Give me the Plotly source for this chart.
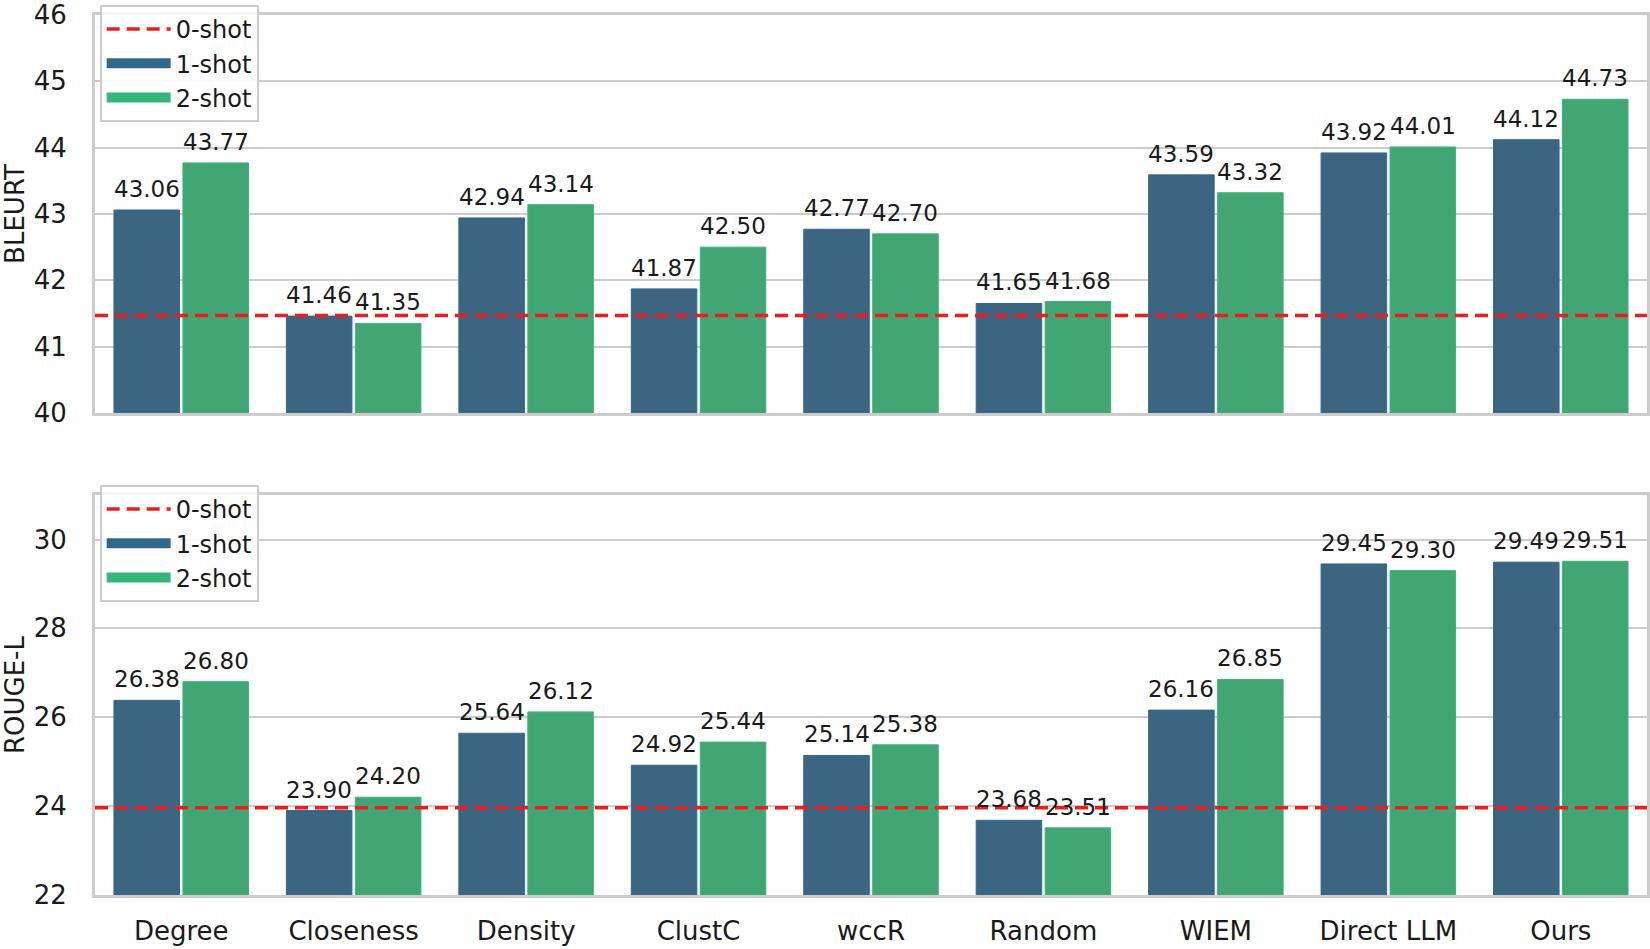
import plotly.graph_objects as go

categories = ["Degree", "Closeness", "Density", "ClustC", "wccR", "Random", "WIEM", "Direct LLM", "Ours"]

bleurt_1shot = [43.06, 41.46, 42.94, 41.87, 42.77, 41.65, 43.59, 43.92, 44.12]
bleurt_2shot = [43.77, 41.35, 43.14, 42.50, 42.70, 41.68, 43.32, 44.01, 44.73]
bleurt_0shot = 41.47

rouge_1shot = [26.38, 23.90, 25.64, 24.92, 25.14, 23.68, 26.16, 29.45, 29.49]
rouge_2shot = [26.80, 24.20, 26.12, 25.44, 25.38, 23.51, 26.85, 29.30, 29.51]
rouge_0shot = 23.96

bleurt_ticks = [40, 41, 42, 43, 44, 45, 46]
rouge_ticks = [22, 24, 26, 28, 30]

FONT = "DejaVu Sans"
C1_BAR, C2_BAR = "#3c6581", "#42a674"
C1_LEG, C2_LEG = "#31688e", "#35b779"
RED = "rgb(240,28,28)"
GRID = "#cccccc"
TXT = "#1a1a1a"

xs = list(range(len(categories)))
fig = go.Figure()

panels = [
    ("x", "y", "legend", bleurt_1shot, bleurt_2shot, bleurt_0shot),
    ("x2", "y2", "legend2", rouge_1shot, rouge_2shot, rouge_0shot),
]

annotations = []
for xa, ya, lg, v1, v2, v0 in panels:
    # zero-shot line
    fig.add_trace(go.Scatter(x=[-0.5, len(categories) - 0.5], y=[v0, v0], mode="lines",
                             line=dict(color=RED, width=3.5, dash="13px,7px"),
                             name="0-shot", xaxis=xa, yaxis=ya, legend=lg, showlegend=True))
    # legend-only patches (wide rectangles)
    fig.add_trace(go.Scatter(x=[None], y=[None], mode="lines", name="1-shot",
                             line=dict(color=C1_LEG, width=18),
                             xaxis=xa, yaxis=ya, legend=lg))
    fig.add_trace(go.Scatter(x=[None], y=[None], mode="lines", name="2-shot",
                             line=dict(color=C2_LEG, width=18),
                             xaxis=xa, yaxis=ya, legend=lg))
    # real bars
    fig.add_trace(go.Bar(x=xs, y=v1, marker=dict(color=C1_BAR, line=dict(color=C1_LEG, width=1)),
                         xaxis=xa, yaxis=ya, showlegend=False, offsetgroup="a", name="1-shot"))
    fig.add_trace(go.Bar(x=xs, y=v2, marker=dict(color=C2_BAR, line=dict(color=C2_LEG, width=1)),
                         xaxis=xa, yaxis=ya, showlegend=False, offsetgroup="b", name="2-shot"))
    for vals, off in ((v1, -0.2), (v2, 0.2)):
        for i, v in enumerate(vals):
            annotations.append(dict(x=i + off, y=v, xref=xa, yref=ya, text=f"{v:.2f}",
                                    showarrow=False, yanchor="bottom", yshift=6,
                                    font=dict(family=FONT, size=23, color=TXT)))

axis_common = dict(showline=True, mirror=True, linecolor=GRID, linewidth=3,
                   zeroline=False, ticklabeloverflow="allow", automargin=False,
                   tickfont=dict(family=FONT, size=26, color=TXT))

legend_common = dict(x=0.003, xanchor="left", yanchor="top",
                     bgcolor="rgba(255,255,255,0.85)", bordercolor=GRID, borderwidth=2,
                     font=dict(family=FONT, size=24, color=TXT), itemwidth=64,
                     traceorder="normal")

fig.update_layout(
    width=1650, height=949,
    margin=dict(l=95, r=3, t=5, b=54, autoexpand=False),
    plot_bgcolor="white", paper_bgcolor="white",
    barmode="group", bargap=0.2, bargroupgap=0.05,
    font=dict(family=FONT, color=TXT),
    annotations=annotations,
    xaxis=dict(range=[-0.5, 8.5], showgrid=False, tickvals=xs, ticktext=categories,
               showticklabels=False, anchor="y", **axis_common),
    xaxis2=dict(range=[-0.5, 8.5], showgrid=False, tickvals=xs, ticktext=categories,
                ticks="outside", ticklen=11, tickcolor="rgba(0,0,0,0)", anchor="y2",
                **axis_common),
    yaxis=dict(domain=[0.5416, 0.9888], range=[39.999, 46.001], tickvals=bleurt_ticks,
               showgrid=True, gridcolor=GRID, gridwidth=2,
               ticks="outside", ticklen=20, tickcolor="rgba(0,0,0,0)",
               title=dict(text="BLEURT", font=dict(family=FONT, size=26), standoff=16),
               anchor="x", **axis_common),
    yaxis2=dict(domain=[0, 0.4494], range=[21.999, 31.001], tickvals=rouge_ticks,
                showgrid=True, gridcolor=GRID, gridwidth=2,
                ticks="outside", ticklen=20, tickcolor="rgba(0,0,0,0)",
                title=dict(text="ROUGE-L", font=dict(family=FONT, size=26), standoff=16),
                anchor="x2", **axis_common),
    legend=dict(y=1.0, **legend_common),
    legend2=dict(y=0.4607, **legend_common),
)

fig.write_html("out.html", config={"displayModeBar": False},
               post_script="document.body.style.margin='0';document.body.style.overflow='hidden';")
